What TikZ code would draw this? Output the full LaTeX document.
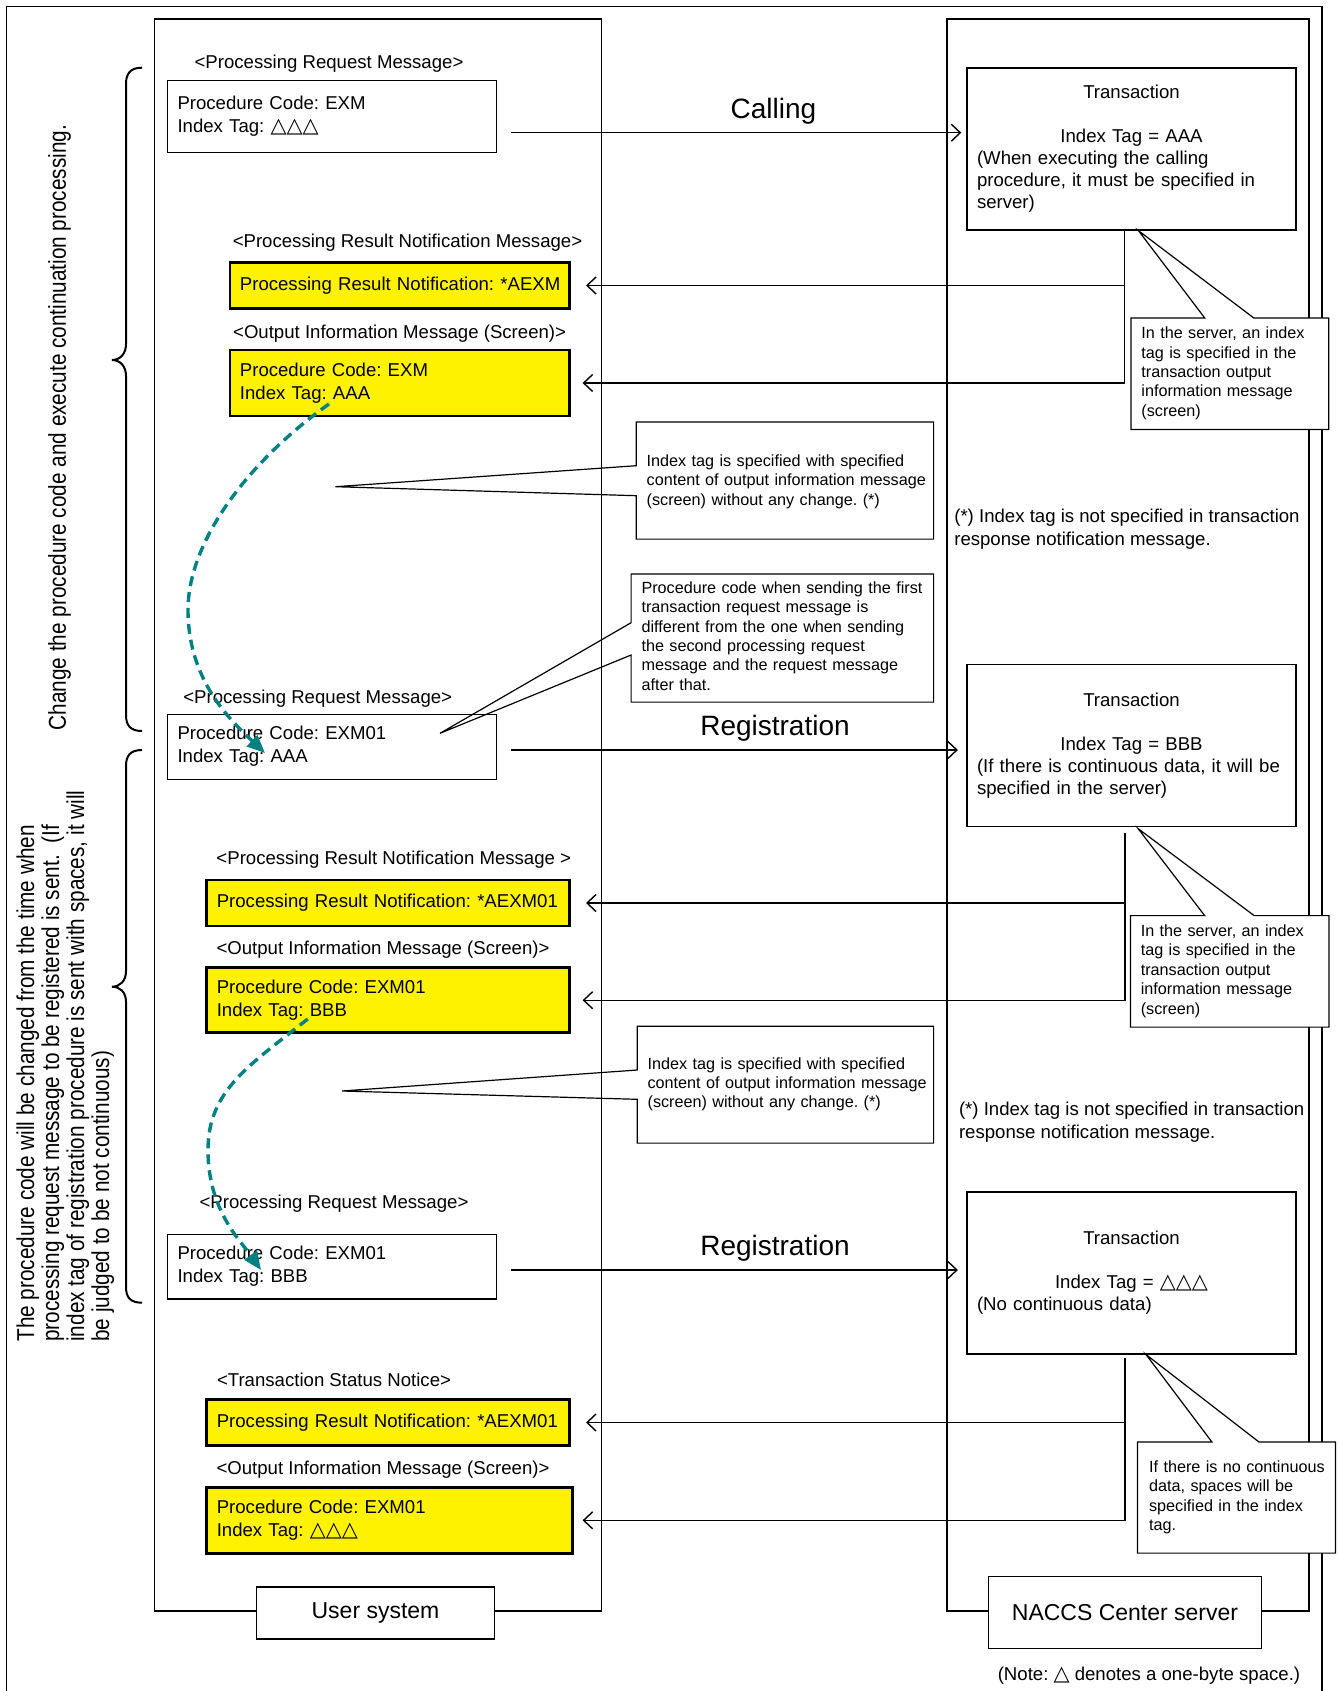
\documentclass[tikz,border=0pt]{standalone}
\usepackage{fontspec}
\setmainfont{Liberation Sans}
\newfontfamily\symfont[Scale=1.12]{DejaVu Sans}
\newfontfamily\sidefont[FakeStretch=0.85]{Liberation Sans}
\usetikzlibrary{arrows.meta}
\definecolor{hopteal}{RGB}{0,128,128}
\newcommand{\tri}{{\symfont\char"25B3}}
\newcommand{\flush}[1]{\begin{tabular}{@{}l@{}}#1\end{tabular}}
\frenchspacing

\begin{document}
\begin{tikzpicture}[x=0.5pt, y=-0.5pt,
 every node/.style={inner sep=0pt},
 txt/.style={font=\fontsize{9.3}{11.5}\selectfont},
 small/.style={font=\fontsize{8.1}{9.7}\selectfont},
 big/.style={font=\fontsize{14}{16}\selectfont},
 sys/.style={draw, fill=white, line width=0.7pt, font=\fontsize{11.5}{13}\selectfont},
 boxed/.style={draw, line width=0.7pt, txt, align=left, inner xsep=5pt},
 yel/.style={boxed, fill=yellow, line width=1.4pt},
 trans/.style={boxed, font=\fontsize{9.3}{11}\selectfont, text width=154.5pt, minimum height=81pt},
 callout/.style={fill=white, small, align=left, inner xsep=5pt},
 lane/.style={line width=0.7pt},
 rim/.style={line width=0.6pt},
 msg/.style={line width=0.7pt, -{Straight Barb[length=4.5pt,width=8.5pt]}},
 hop/.style={draw=hopteal, line width=1.7pt, dash pattern=on 5pt off 3pt, -{Triangle[length=9pt,width=7.5pt]}},
 side/.style={font=\sidefont\fontsize{12.2}{12.5}\selectfont, rotate=90, align=left}]
\useasboundingbox (0,0) rectangle (1338,1691);
\draw[lane] (6.5,1691) -- (6.5,6.5) -- (1322,6.5) -- (1322,1691);
\draw[lane] (154.2,19) rectangle (601.7,1611);
\draw[lane] (946.8,19) rectangle (1309,1611);
\node[sys, minimum width=119pt, minimum height=25.85pt] (userSys) at (375.5,1613) {User system};
\node[sys, minimum width=136.25pt, minimum height=35.8pt] (naccs) at (1125,1612.5) {NACCS Center server};

\draw[line width=1pt] (142,67.7) .. controls (130,67.7) and (126,74) .. (126,84) -- (126,344)
 .. controls (126,354) and (120,360) .. (112,360) .. controls (120,360) and (126,366) .. (126,376)
 -- (126,715) .. controls (126,725) and (130,731) .. (142,731);
\draw[line width=1pt] (142,750) .. controls (130,750) and (126,756) .. (126,766) -- (126,971)
 .. controls (126,981) and (120,986.7) .. (112,986.7) .. controls (120,986.7) and (126,992) .. (126,1002)
 -- (126,1287) .. controls (126,1297) and (130,1302.7) .. (142,1302.7);
\node[side] (loopA) at (59.6,427.5) {Change the procedure code and execute continuation processing.};
\node[side, anchor=west] (loopB) at (65.2,1342) {The procedure code will be changed from the time when\\processing request message to be registered is sent.\ \ (If\\index tag of registration procedure is sent with spaces, it will\\be judged to be not continuous)};

\node[txt] (reqAlbl) at (329,64) {<Processing Request Message>};
\node[boxed, text width=154.5pt, minimum height=35.8pt] (reqA) at (332,116.5) {\flush{Procedure Code: EXM\\Index Tag: \tri\tri\tri}};
\node[txt] (resAlbl) at (407.5,242.3) {<Processing Result Notification Message>};
\node[yel, text width=159.9pt, minimum height=22.8pt] (yA) at (399.8,285.5) {\flush{Processing Result Notification: *AEXM}};
\node[txt] (outAlbl) at (399.6,333.3) {<Output Information Message (Screen)>};
\node[yel, text width=159.9pt, minimum height=33pt] (yB) at (399.8,383) {\flush{Procedure Code: EXM\\Index Tag: AAA}};

\node[txt] (reqBlbl) at (317.7,699) {<Processing Request Message>};
\node[boxed, text width=154.5pt, minimum height=32.5pt] (reqB) at (332,746.8) {\flush{Procedure Code: EXM01\\Index Tag: AAA}};
\node[txt] (resBlbl) at (393.8,859.3) {<Processing Result Notification Message >};
\node[yel, text width=171.45pt, minimum height=23pt] (yC) at (388.25,903) {\flush{Processing Result Notification: *AEXM01}};
\node[txt] (outBlbl) at (383,949.3) {<Output Information Message (Screen)>};
\node[yel, text width=171.45pt, minimum height=32.5pt] (yD) at (388.25,1000.2) {\flush{Procedure Code: EXM01\\Index Tag: BBB}};

\node[txt] (reqClbl) at (334,1203.3) {<Processing Request Message>};
\node[boxed, text width=154.5pt, minimum height=32.35pt] (reqC) at (332,1266.7) {\flush{Procedure Code: EXM01\\Index Tag: BBB}};
\node[txt] (statlbl) at (334,1380) {<Transaction Status Notice>};
\node[yel, text width=171.45pt, minimum height=23.2pt] (yE) at (388.25,1422.5) {\flush{Processing Result Notification: *AEXM01}};
\node[txt] (outClbl) at (383,1469.3) {<Output Information Message (Screen)>};
\node[yel, text width=172.9pt, minimum height=33pt] (yF) at (389.7,1520.3) {\flush{Procedure Code: EXM01\\Index Tag: \tri\tri\tri}};

\node[trans] (trA) at (1131.5,149) {\makebox[\linewidth]{Transaction}\\[11pt]\makebox[\linewidth]{Index Tag = AAA}\\(When executing the calling\\procedure, it must be specified in\\server)};
\node[trans] (trB) at (1131.5,745.3) {\makebox[\linewidth]{Transaction}\\[11pt]\makebox[\linewidth]{Index Tag = BBB}\\(If there is continuous data, it will be\\specified in the server)};
\node[trans] (trC) at (1131.5,1272.9) {\makebox[\linewidth]{Transaction}\\[11pt]\makebox[\linewidth]{Index Tag = \tri\tri\tri}\\(No continuous data)};

\node[big] (callLbl) at (773.5,111.7) {Calling};
\node[big] (regBlbl) at (775,728.3) {Registration};
\node[big] (regClbl) at (775,1248.3) {Registration};

\coordinate (reqAout) at ([yshift=-8.1pt]reqA.east);
\coordinate (reqBout) at ([yshift=-1.6pt]reqB.east);
\coordinate (reqCout) at ([yshift=-1.65pt]reqC.east);
\draw[msg, shorten <=7pt, shorten >=2.5pt] (reqAout) -- (reqAout -| trA.west);
\draw[msg, shorten <=7pt, shorten >=4.2pt] (reqBout) -- (reqBout -| trB.west);
\draw[msg, shorten <=7pt, shorten >=4.2pt] (reqCout) -- (reqCout -| trC.west);

\coordinate (trAdrop) at ([xshift=-3.5pt]trA.south);
\coordinate (trBdrop) at ([xshift=-3.3pt,yshift=-3pt]trB.south);
\coordinate (trCdrop) at ([xshift=-3.3pt,yshift=-1.8pt]trC.south);
\draw[msg, shorten >=7.45pt] (trAdrop |- yA.east) -- (yA.east);
\draw[msg, shorten >=5.75pt] (trAdrop) |- (yB.east);
\draw[msg, shorten >=7.45pt] (trBdrop |- yC.east) -- (yC.east);
\draw[msg, shorten >=5.75pt] (trBdrop) |- (yD.east);
\draw[msg, shorten >=7.45pt] (trCdrop |- yE.east) -- (yE.east);
\draw[msg, shorten >=4.3pt] (trCdrop) |- (yF.east);

\node[callout, text width=88.45pt, minimum height=55.35pt] (noteA) at (1229.85,373.65) {\flush{In the server, an index\\tag is specified in the\\transaction output\\information message\\(screen)}};
\coordinate (noteAtip) at ([xshift=3.5pt]trA.south);
\draw[rim] (noteA.north west) -- ([xshift=-12.6pt]noteA.north) -- (noteAtip) -- ([xshift=11.9pt]noteA.north) -- (noteA.north east) -- (noteA.south east) -- (noteA.south west) -- cycle;
\node[callout, text width=88.85pt, minimum height=55.35pt] (noteB) at (1229.65,971.35) {\flush{In the server, an index\\tag is specified in the\\transaction output\\information message\\(screen)}};
\coordinate (noteBtip) at ([xshift=3.3pt,yshift=-0.8pt]trB.south);
\draw[rim] (noteB.north west) -- ([xshift=-12.5pt]noteB.north) -- (noteBtip) -- ([xshift=12.2pt]noteB.north) -- (noteB.north east) -- (noteB.south east) -- (noteB.south west) -- cycle;
\node[callout, inner xsep=5.6pt, text width=87.35pt, minimum height=55.2pt] (noteC) at (1236.45,1497.5) {\flush{If there is no continuous\\data, spaces will be\\specified in the index\\tag.}};
\coordinate (noteCtip) at ([xshift=7.3pt]trC.south);
\draw[rim] (noteC.north west) -- ([xshift=-12.3pt]noteC.north) -- (noteCtip) -- ([xshift=11.2pt]noteC.north) -- (noteC.north east) -- (noteC.south east) -- (noteC.south west) -- cycle;

\node[callout, text width=138.25pt, minimum height=58.2pt] (tagA) at (784.95,482) {\flush{Index tag is specified with specified\\content of output information message\\(screen) without any change. (*)}};
\coordinate (tagAtip) at (335.5,486.7);
\draw[rim] ([yshift=0.75pt]tagA.north west) -- ([yshift=0.75pt]tagA.north east) -- ([yshift=0.75pt]tagA.south east) -- ([yshift=0.75pt]tagA.south west) -- ([yshift=-6.85pt]tagA.west) -- (tagAtip) -- ([yshift=8.15pt]tagA.west) -- cycle;
\node[callout, text width=140.85pt, minimum height=63.7pt] (codeA) at (782.35,638) {\flush{Procedure code when sending the first\\transaction request message is\\different from the one when sending\\the second processing request\\message and the request message\\after that.}};
\coordinate (codeAtip) at (440,733.3);
\draw[rim] (codeA.north west) -- (codeA.north east) -- (codeA.south east) -- (codeA.south west) -- ([yshift=-8.5pt]codeA.west) -- (codeAtip) -- ([yshift=7.65pt]codeA.west) -- cycle;
\node[callout, text width=137.8pt, minimum height=58pt] (tagB) at (785.4,1084.7) {\flush{Index tag is specified with specified\\content of output information message\\(screen) without any change. (*)}};
\coordinate (tagBtip) at (342,1091);
\draw[rim] (tagB.north west) -- (tagB.north east) -- (tagB.south east) -- (tagB.south west) -- ([yshift=-7.3pt]tagB.west) -- (tagBtip) -- ([yshift=7.35pt]tagB.west) -- cycle;

\node[txt, align=left, anchor=west] (starA) at (953.9,529) {(*) Index tag is not specified in transaction\\response notification message.};
\node[txt, align=left, anchor=west] (starB) at (958.6,1122.2) {(*) Index tag is not specified in transaction\\response notification message.};
\node[txt] (spaceNote) at (1149,1675.7) {(Note: \tri\ denotes a one-byte space.)};

\coordinate (hopAfrom) at (329,404);
\coordinate (hopAto) at (265,753);
\draw[hop] (hopAfrom) .. controls (250,460) and (188,540) .. (188,610) .. controls (188,680) and (230,720) .. (hopAto);
\coordinate (hopBfrom) at (307.7,1019);
\coordinate (hopBto) at (261,1270);
\draw[hop] (hopBfrom) .. controls (250,1065) and (208,1090) .. (208,1150) .. controls (208,1210) and (240,1240) .. (hopBto);
\end{tikzpicture}
\end{document}
